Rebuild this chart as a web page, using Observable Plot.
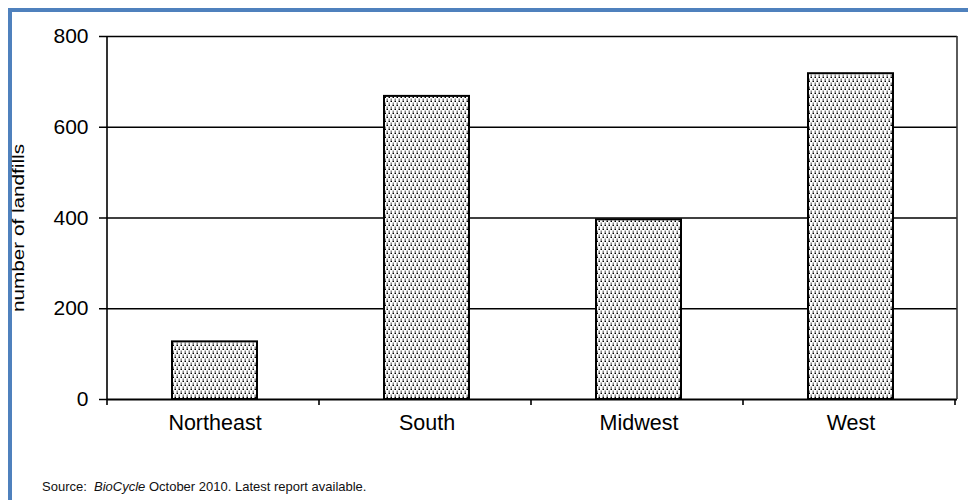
<!DOCTYPE html>
<html>
<head>
<meta charset="utf-8">
<script src="https://cdn.jsdelivr.net/npm/d3@7"></script>
<script src="https://cdn.jsdelivr.net/npm/@observablehq/plot@0.6"></script>
<style>
  body { margin: 0; background: #fff; }
  #wrap { position: relative; width: 968px; height: 500px; overflow: hidden; background: #fff;
          font-family: "Liberation Sans", Arial, sans-serif; }
  #border { position: absolute; left: 8px; top: 8px; width: 1200px; height: 1200px;
            border: 4px solid #4f81bd; }
  #chart { position: absolute; left: 0; top: 0; }
  #caption { position: absolute; left: 42px; top: 479px; font-size: 13px; color: #111; white-space: pre; }
</style>
</head>
<body>
<div id="wrap">
  <div id="border"></div>
  <div id="chart"></div>
  <div id="caption">Source:  <i>BioCycle</i> October 2010. Latest report available.</div>
</div>
<script>
// Landfills by U.S. region
const categories = ["Northeast", "South", "Midwest", "West"];
const landfills = [127, 668, 396, 718];
const yTicks = [0, 200, 400, 600, 800];
const yLabel = "number of landfills";

const rows = categories.map((region, i) => ({region, count: landfills[i]}));

// Frame lines: y axis line, right border, and x ticks on the category boundaries
function frameLines(index, scales, values, dims) {
  const {width, height, marginLeft, marginRight, marginTop, marginBottom} = dims;
  const x0 = marginLeft, x1 = width - marginRight;
  const yTop = marginTop, yBot = height - marginBottom;
  const step = scales.x(categories[1]) - scales.x(categories[0]);
  const g = d3.create("svg:g").attr("stroke", "#000").attr("stroke-width", 1.6);
  d3.range(categories.length + 1).forEach(i => {
    const bx = x0 + i * step;
    g.append("line").attr("x1", bx).attr("x2", bx).attr("y1", yBot).attr("y2", yBot + 6);
  });
  g.append("line").attr("x1", x0).attr("x2", x0).attr("y1", yTop).attr("y2", yBot);
  g.append("line").attr("x1", x1).attr("x2", x1).attr("y1", yTop).attr("y2", yBot).attr("stroke", "#333");
  return g.node();
}

const chart = Plot.plot({
  width: 968,
  height: 440,
  marginLeft: 107,
  marginRight: 11,
  marginTop: 36,
  marginBottom: 41,
  style: {fontFamily: "'Liberation Sans', Arial, sans-serif", color: "#000", background: "transparent"},
  x: {domain: categories, paddingInner: 0.6, paddingOuter: 0.3},
  y: {domain: [0, 800]},
  marks: [
    Plot.gridY(yTicks.filter(d => d > 0), {stroke: "#000", strokeOpacity: 1, strokeWidth: 1.5}),
    Plot.barY(rows, {x: "region", y: "count", fill: "url(#dots)", stroke: "#000", strokeWidth: 2}),
    Plot.ruleY([0], {stroke: "#000", strokeWidth: 2}),
    frameLines,
    Plot.axisY({ticks: yTicks, tickSize: 8, tickPadding: 11, fontSize: 21, label: null, strokeWidth: 1.5}),
    Plot.axisX({tickSize: 0, tickPadding: 15, fontSize: 21.5, label: null}),
    Plot.text([yLabel], {frameAnchor: "left", textAnchor: "middle", dx: -89, dy: 10, rotate: -90,
                         fontSize: 16, fill: "#000"})
  ]
});

// The axis title is drawn slightly stretched along its baseline
d3.select(chart).selectAll("text")
  .filter(function() { return this.textContent === yLabel; })
  .attr("textLength", 168).attr("lengthAdjust", "spacingAndGlyphs");

// Stipple fill used by the bars
const defs = d3.select(chart).insert("defs", ":first-child");
const pat = defs.append("pattern").attr("id", "dots")
  .attr("width", 8).attr("height", 8).attr("patternUnits", "userSpaceOnUse");
pat.append("rect").attr("width", 8).attr("height", 8).attr("fill", "#fff");
[[0.5, 0.5, "#000"], [4.5, 0.5, "#000"], [2.5, 4.5, "#000"], [6.5, 4.5, "#000"],
 [2.5, 2.5, "#8a8a8a"], [6.5, 2.5, "#8a8a8a"], [0.5, 6.5, "#8a8a8a"], [4.5, 6.5, "#8a8a8a"]]
  .forEach(([x, y, c]) => pat.append("rect").attr("x", x).attr("y", y)
    .attr("width", 1.5).attr("height", 1.5).attr("fill", c));

document.getElementById("chart").appendChild(chart);
</script>
</body>
</html>
